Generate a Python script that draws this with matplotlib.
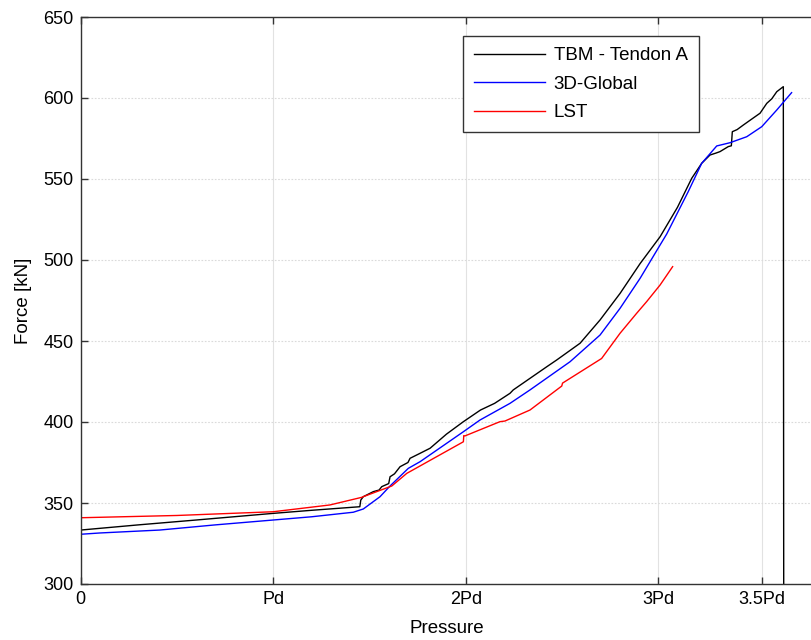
import matplotlib
matplotlib.use("Agg")
import matplotlib.pyplot as plt

plt.rcParams['font.family'] = ['Liberation Sans', 'DejaVu Sans']

# x in units of Pd
tbm_x = [0.0, 0.3, 0.6, 1.0, 1.2, 1.45, 1.455, 1.468, 1.52, 1.55, 1.564, 1.60, 1.607, 1.63, 1.659,
         1.70, 1.711, 1.76, 1.815, 1.90, 1.988, 2.077, 2.15, 2.230, 2.247, 2.421, 2.473, 2.594,
         2.698, 2.802, 2.906, 3.010, 3.10, 3.174, 3.226, 3.269, 3.30, 3.321, 3.364, 3.380, 3.385,
         3.41, 3.442, 3.48, 3.529, 3.564, 3.59, 3.616, 3.650, 3.652]
tbm_y = [333.3, 336.5, 339.5, 343.6, 345.5, 347.7, 351.8, 353.9, 357.0, 358.0, 360.1, 362.0, 366.2,
         368.0, 372.4, 375.0, 377.6, 380.5, 383.8, 392.5, 400.2, 407.4, 411.5, 417.7, 419.8, 434.1,
         438.3, 448.6, 463.0, 479.4, 497.8, 514.4, 532.5, 550.4, 559.7, 564.8, 566.0, 566.9, 570.0,
         570.5, 579.2, 580.5, 583.3, 586.5, 590.6, 596.7, 599.5, 603.9, 607.0, 300.0]

glob_x = [0.0, 0.1, 0.41, 0.7, 1.0, 1.2, 1.416, 1.46, 1.468, 1.555, 1.607, 1.702, 1.763, 1.988,
          2.074, 2.230, 2.334, 2.542, 2.698, 2.802, 2.906, 3.010, 3.044, 3.156, 3.226, 3.304,
          3.373, 3.460, 3.538, 3.616, 3.693]
glob_y = [330.7, 331.5, 333.3, 336.5, 339.5, 341.5, 344.3, 346.0, 346.3, 353.9, 360.5, 371.4,
          375.5, 394.0, 401.2, 411.5, 419.8, 437.2, 453.7, 470.2, 488.7, 509.3, 516.0, 542.2,
          559.7, 570.4, 572.4, 576.1, 582.3, 592.6, 603.3]

lst_x = [0.0, 0.5, 1.0, 1.295, 1.46, 1.468, 1.616, 1.694, 1.988, 1.990, 1.996, 2.178, 2.204,
         2.334, 2.499, 2.503, 2.706, 2.802, 2.888, 2.940, 3.010, 3.075]
lst_y = [340.9, 342.3, 344.6, 348.8, 353.5, 353.9, 360.5, 368.3, 387.8, 391.6, 391.4, 400.2,
         400.6, 407.4, 422.2, 424.0, 439.2, 454.8, 467.1, 474.3, 484.6, 495.9]

xtick_pos = [0, 1, 2, 3, 3.54]
xtick_labels = ['0', 'Pd', '2Pd', '3Pd', '3.5Pd']
yticks = [300, 350, 400, 450, 500, 550, 600, 650]

fig = plt.figure(figsize=(8.12, 6.40), dpi=100)
W, H = 812, 640
ax = fig.add_axes([80.7 / W, 56 / H, (812 - 80.7) / W, (584 - 17) / H])

ax.plot(tbm_x, tbm_y, color='black', lw=1.0, label='TBM - Tendon A')
ax.plot(glob_x, glob_y, color='#0000ff', lw=1.0, label='3D-Global')
ax.plot(lst_x, lst_y, color='#ff0000', lw=1.0, label='LST')

ax.set_xlim(0, (812 - 80.7) / 192.5)
ax.set_ylim(300, 650)
ax.set_xticks(xtick_pos)
ax.set_xticklabels(xtick_labels)
ax.set_yticks(yticks)

ax.xaxis.grid(True, color='#e2e2e2', lw=0.8, ls='-')
ax.yaxis.grid(True, color='#dadada', lw=0.8, ls=(0, (1.5, 1.5)))
ax.set_axisbelow(True)

for s in ['left', 'bottom', 'top']:
    ax.spines[s].set_color('#333333')
    ax.spines[s].set_linewidth(1.0)
ax.spines['right'].set_visible(False)

ax.tick_params(axis='both', direction='in', length=5, width=1.0, color='#333333',
               labelsize=13, top=True, right=False, pad=5)

ax.set_xlabel('Pressure', fontsize=13.5, labelpad=9)
ax.set_ylabel('Force [kN]', fontsize=13.5, labelpad=8)

leg = ax.legend(loc='upper left', bbox_to_anchor=(462.7 / W, 1 - 36 / H),
                bbox_transform=fig.transFigure, fontsize=13.5, frameon=True,
                fancybox=False, framealpha=1, edgecolor='#333333',
                handlelength=3.8, handletextpad=0.45, labelspacing=0.6,
                borderpad=0.6, borderaxespad=0)
leg.get_frame().set_linewidth(1.0)

fig.savefig('out.png', dpi=100)
